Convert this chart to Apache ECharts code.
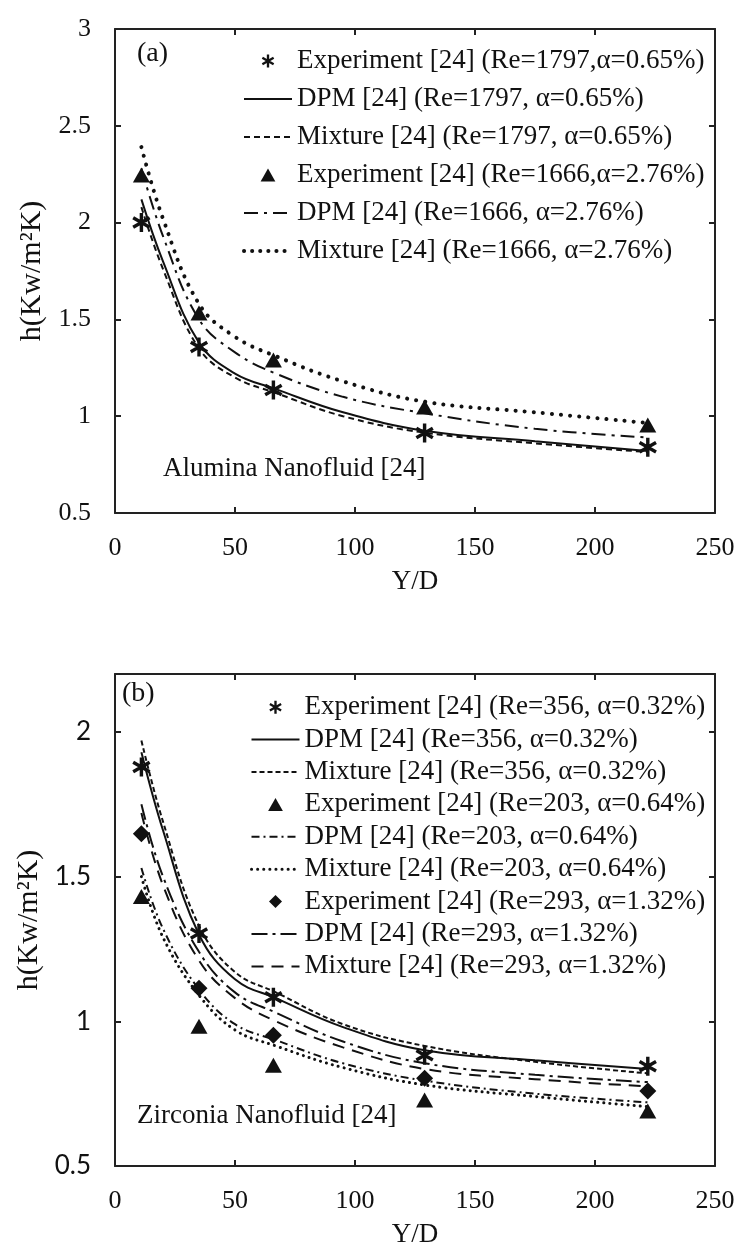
<!DOCTYPE html>
<html>
<head>
<meta charset="utf-8">
<script src="https://cdn.jsdelivr.net/npm/echarts@6/dist/echarts.min.js"></script>
<style>
  html, body { margin: 0; padding: 0; background: #ffffff; }
  #chart { width: 742px; height: 1249px; }
</style>
</head>
<body>
<div id="chart"></div>
<script>
// Y/D stations of the measured heat transfer coefficients
const expYD = [11, 35, 66, 129, 222];
// Y/D stations tracing the simulated profiles
const cfdYD = [11, 20, 35, 50, 67, 95, 129, 175, 222];

// (a) Alumina nanofluid, h in kW/m2K
const aExp1797 = [2.0, 1.357, 1.135, 0.913, 0.84];
const aDpm1797 = [2.12, 1.80, 1.38, 1.22, 1.14, 1.02, 0.925, 0.87, 0.82];
const aMix1797 = [2.08, 1.76, 1.35, 1.20, 1.12, 1.00, 0.915, 0.86, 0.815];
const aExp1666 = [2.246, 1.533, 1.29, 1.047, 0.955];
const aDpm1666 = [2.28, 1.93, 1.50, 1.33, 1.22, 1.10, 1.015, 0.935, 0.89];
const aMix1666 = [2.39, 2.02, 1.58, 1.41, 1.31, 1.18, 1.075, 1.02, 0.965];

// (b) Zirconia nanofluid, h in kW/m2K
const bExp356 = [1.879, 1.303, 1.083, 0.883, 0.845];
const bDpm356 = [1.93, 1.66, 1.30, 1.145, 1.08, 0.98, 0.90, 0.865, 0.835];
const bMix356 = [1.97, 1.69, 1.33, 1.17, 1.10, 0.99, 0.915, 0.86, 0.82];
const bExp203 = [1.431, 0.983, 0.848, 0.728, 0.69];
const bDpm203 = [1.53, 1.32, 1.11, 0.99, 0.935, 0.855, 0.795, 0.75, 0.72];
const bMix203 = [1.50, 1.29, 1.09, 0.97, 0.915, 0.84, 0.78, 0.74, 0.705];
const bExp293 = [1.648, 1.114, 0.952, 0.803, 0.759];
const bDpm293 = [1.75, 1.50, 1.24, 1.10, 1.03, 0.93, 0.855, 0.815, 0.79];
const bMix293 = [1.72, 1.47, 1.21, 1.08, 1.00, 0.91, 0.835, 0.80, 0.775];

const namesA = [
  'Experiment [24] (Re=1797,\u03b1=0.65%)',
  'DPM [24] (Re=1797, \u03b1=0.65%)',
  'Mixture [24] (Re=1797, \u03b1=0.65%)',
  'Experiment [24] (Re=1666,\u03b1=2.76%)',
  'DPM [24] (Re=1666, \u03b1=2.76%)',
  'Mixture [24] (Re=1666, \u03b1=2.76%)'
];
const namesB = [
  'Experiment [24] (Re=356, \u03b1=0.32%)',
  'DPM [24] (Re=356, \u03b1=0.32%)',
  'Mixture [24] (Re=356, \u03b1=0.32%)',
  'Experiment [24] (Re=203, \u03b1=0.64%)',
  'DPM [24] (Re=203, \u03b1=0.64%)',
  'Mixture [24] (Re=203, \u03b1=0.64%)',
  'Experiment [24] (Re=293, \u03b1=1.32%)',
  'DPM [24] (Re=293, \u03b1=1.32%)',
  'Mixture [24] (Re=293, \u03b1=1.32%)'
];

const SERIF = '"Liberation Serif", "Times New Roman", serif';
const INK = '#111';

// marker outlines
const ASTERISK = 'path://M41 0L59 0L59 100L41 100Z' +
  'M2.2 32.8L11.2 17.2L97.8 67.2L88.8 82.8Z' +
  'M11.2 82.8L2.2 67.2L88.8 17.2L97.8 32.8Z';
const TRIANGLE = 'path://M50 0L100 88L0 88Z';
const DIAMOND = 'path://M50 0L100 50L50 100L0 50Z';

const pairs = (xs, ys) => xs.map((x, i) => [x, ys[i]]);

function expSeries(name, xi, yi, ys, symbol, size) {
  return {
    name, type: 'scatter', xAxisIndex: xi, yAxisIndex: yi,
    symbol, symbolSize: size, symbolKeepAspect: true,
    itemStyle: { color: INK, opacity: 1 }, z: 5,
    data: pairs(expYD, ys)
  };
}
function cfdSeries(name, xi, yi, ys, width, dash, cap) {
  return {
    name, type: 'line', xAxisIndex: xi, yAxisIndex: yi,
    smooth: 0.4, symbol: 'none', showSymbol: false,
    itemStyle: { color: INK },
    lineStyle: { color: INK, width, type: dash, cap: cap || 'butt' },
    data: pairs(cfdYD, ys)
  };
}

function xAxisPair(grid) {
  const base = {
    type: 'value', gridIndex: grid, min: 0, max: 250, interval: 50,
    splitLine: { show: false },
    axisLine: { show: true, onZero: false, lineStyle: { color: '#222', width: 2 } },
    axisTick: { show: true, inside: true, length: 6, lineStyle: { color: '#222', width: 2 } }
  };
  return [
    Object.assign({}, base, {
      position: 'bottom', name: 'Y/D', nameLocation: 'middle', nameGap: 55,
      nameTextStyle: { fontFamily: SERIF, fontSize: 27, color: INK },
      axisLabel: { fontFamily: SERIF, fontSize: 26, color: INK, margin: 22 }
    }),
    Object.assign({}, base, { position: 'top', axisLabel: { show: false } })
  ];
}
function yAxisPair(grid, min, max, labelFont) {
  const base = {
    type: 'value', gridIndex: grid, min, max, interval: 0.5,
    splitLine: { show: false },
    axisLine: { show: true, onZero: false, lineStyle: { color: '#222', width: 2 } },
    axisTick: { show: true, inside: true, length: 6, lineStyle: { color: '#222', width: 2 } }
  };
  return [
    Object.assign({}, base, {
      position: 'left', name: 'h(Kw/m\u00b2K)', nameLocation: 'middle', nameGap: 64,
      nameTextStyle: { fontFamily: SERIF, fontSize: 30, color: INK },
      axisLabel: {
        fontFamily: labelFont, fontSize: 26, color: INK, margin: 24,
        formatter: v => (Math.abs(v * 2 - Math.round(v * 2)) < 1e-6 ? String(v) : '')
      }
    }),
    Object.assign({}, base, { position: 'right', axisLabel: { show: false } })
  ];
}

// legend entry builders: markers for measurements, line samples for simulations
const markerItem = (name, icon) => ({ name, icon });
const lineItem = (name, extra) => Object.assign({ name, itemStyle: { opacity: 0 } }, extra || {});
const dotsItem = (name, width, gap) => lineItem(name, {
  lineStyle: { width, type: [0.1, gap], cap: 'round', color: INK }
});

const legendBase = {
  orient: 'vertical', itemWidth: 48, itemHeight: 13, itemGap: 0,
  symbolKeepAspect: true, selectedMode: false, padding: 0
};

const option = {
  animation: false,
  backgroundColor: '#ffffff',
  grid: [
    { left: 115, right: 27, top: 29, height: 484 },
    { left: 115, right: 27, top: 674, height: 495 }
  ],
  xAxis: [...xAxisPair(0), ...xAxisPair(1)],
  yAxis: [
    ...yAxisPair(0, 0.5, 3, SERIF),
    ...yAxisPair(1, 0.5, 2.2, '"Lato", "Open Sans", sans-serif')
  ],
  legend: [
    Object.assign({}, legendBase, {
      left: 242, top: 42,
      data: [
        markerItem(namesA[0], ASTERISK),
        lineItem(namesA[1]),
        lineItem(namesA[2]),
        markerItem(namesA[3], TRIANGLE),
        lineItem(namesA[4]),
        dotsItem(namesA[5], 4, 8)
      ],
      textStyle: { fontFamily: SERIF, fontSize: 27, lineHeight: 38, color: INK }
    }),
    Object.assign({}, legendBase, {
      left: 250, top: 691,
      data: [
        markerItem(namesB[0], ASTERISK),
        lineItem(namesB[1]),
        lineItem(namesB[2]),
        markerItem(namesB[3], TRIANGLE),
        lineItem(namesB[4]),
        dotsItem(namesB[5], 3, 6),
        markerItem(namesB[6], DIAMOND),
        lineItem(namesB[7]),
        lineItem(namesB[8])
      ],
      textStyle: { fontFamily: SERIF, fontSize: 27, lineHeight: 32.4, color: INK }
    })
  ],
  graphic: [
    { type: 'text', left: 137, top: 40, style: { text: '(a)', font: '28px ' + SERIF, fill: INK } },
    { type: 'text', left: 163, top: 455, style: { text: 'Alumina Nanofluid [24]', font: '27px ' + SERIF, fill: INK } },
    { type: 'text', left: 122, top: 680, style: { text: '(b)', font: '28px ' + SERIF, fill: INK } },
    { type: 'text', left: 137, top: 1102, style: { text: 'Zirconia Nanofluid [24]', font: '27px ' + SERIF, fill: INK } }
  ],
  series: [
    cfdSeries(namesA[1], 0, 0, aDpm1797, 2, 'solid'),
    cfdSeries(namesA[2], 0, 0, aMix1797, 2, [6, 4]),
    cfdSeries(namesA[4], 0, 0, aDpm1666, 2, [14, 6, 3, 6]),
    cfdSeries(namesA[5], 0, 0, aMix1666, 4, [0.1, 9], 'round'),
    expSeries(namesA[0], 0, 0, aExp1797, ASTERISK, 19),
    expSeries(namesA[3], 0, 0, aExp1666, TRIANGLE, 17),

    cfdSeries(namesB[1], 2, 2, bDpm356, 2, 'solid'),
    cfdSeries(namesB[2], 2, 2, bMix356, 2, [5, 3]),
    cfdSeries(namesB[4], 2, 2, bDpm203, 2, [8, 4, 2, 4]),
    cfdSeries(namesB[5], 2, 2, bMix203, 3, [0.1, 6], 'round'),
    cfdSeries(namesB[7], 2, 2, bDpm293, 2, [16, 5, 3, 5]),
    cfdSeries(namesB[8], 2, 2, bMix293, 2, [12, 8]),
    expSeries(namesB[0], 2, 2, bExp356, ASTERISK, 19),
    expSeries(namesB[3], 2, 2, bExp203, TRIANGLE, 17),
    expSeries(namesB[6], 2, 2, bExp293, DIAMOND, 17)
  ]
};

const chart = echarts.init(document.getElementById('chart'), null, { renderer: 'canvas' });
chart.setOption(option);
</script>
</body>
</html>
